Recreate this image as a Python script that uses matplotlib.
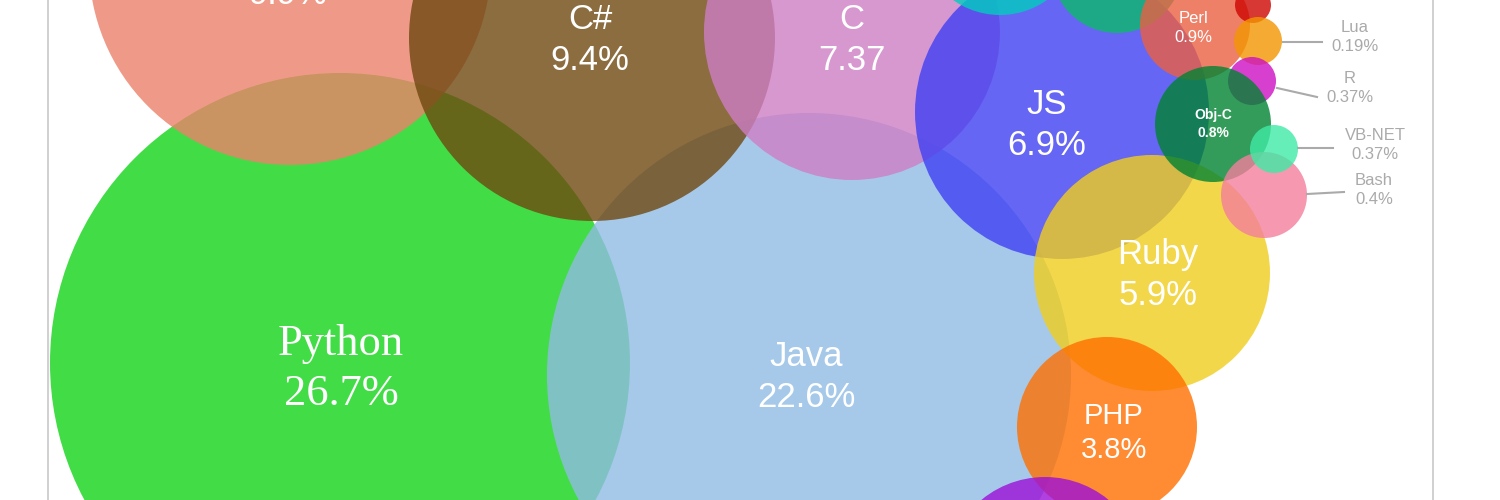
import matplotlib.pyplot as plt
from matplotlib.patches import Circle

# языки и доли
names = ["Python", "Java", "C++", "C#", "C", "JS", "Ruby", "PHP", "", "", "",
         "Perl", "", "Lua", "R", "Obj-C", "Bash", "VB-NET"]
shares = ["26.7%", "22.6%", "9.9%", "9.4%", "7.37", "6.9%", "5.9%", "3.8%", "", "", "",
          "0.9%", "", "0.19%", "0.37%", "0.8%", "0.4%", "0.37%"]

# раскладка пузырей (пиксели картинки)
bubble_x = [340, 809, 290, 592, 852, 1062, 1152, 1107, 1045, 1000, 1117,
            1195, 1253, 1258, 1252, 1213, 1264, 1274]
bubble_y = [363, 375, -36, 38, 32, 112, 273, 427, 577, -66, -33,
            25, 5, 41, 81, 124, 195, 149]
bubble_r = [290, 262, 201, 183, 148, 147, 118, 90, 100, 81, 66,
            55, 18, 24, 24, 58, 43, 24]
colors = ["#42dd46", "#90bce5", "#ec816a", "#6f4810", "#ce7ec4", "#4040f3", "#f1ce1d",
          "#ff6f00", "#9c10d8", "#00cebf", "#0bba6a", "#ea6042", "#ce0600", "#f39600",
          "#ce10c4", "#008331", "#f37e9c", "#40eaa6"]

# подписи внутри пузырей: (центр x, центр y, размер)
inner_labels = {
    "Python": (341, 369, 32),
    "Java": (806, 377, 25),
    "C++": (288, -26, 25),
    "C#": (590, 40, 25),
    "C": (852, 40, 25),
    "JS": (1047, 125, 25),
    "Ruby": (1158, 275, 25),
    "PHP": (1114, 433, 21),
    "Perl": (1193, 28, 12),
    "Obj-C": (1213, 124, 10),
}

# выноски для мелких пузырей
outer = ["Lua", "R", "VB-NET", "Bash"]
lead_start = [(1283, 42), (1277, 88), (1298, 148), (1307, 194)]
lead_end = [(1322, 42), (1317, 97), (1333, 148), (1344, 192)]
label_pos = [(1355, 37), (1350, 88), (1375, 145), (1374, 190)]

fig = plt.figure(figsize=(15, 5), dpi=100)
ax = fig.add_axes([0, 0, 1, 1])
ax.set_xlim(0, 1500)
ax.set_ylim(500, 0)
ax.axis("off")

ax.axvline(48, color="#c8c8c8", lw=1.2)
ax.axvline(1433, color="#c8c8c8", lw=1.2)

for i in range(len(bubble_x)):
    alpha = 1.0 if i == 0 else 0.8
    ax.add_patch(Circle((bubble_x[i], bubble_y[i]), bubble_r[i],
                        facecolor=colors[i], edgecolor="none", alpha=alpha))

for name, (x, y, size) in inner_labels.items():
    i = names.index(name)
    family = "Liberation Serif" if name == "Python" else "Liberation Sans"
    weight = "bold" if name == "Obj-C" else "normal"
    ax.text(x, y, names[i] + "\n" + shares[i], ha="center", va="center",
            color="white", fontsize=size, family=family, weight=weight,
            linespacing=1.3)

for k, name in enumerate(outer):
    i = names.index(name)
    ax.plot([lead_start[k][0], lead_end[k][0]], [lead_start[k][1], lead_end[k][1]],
            color="#aaaaaa", lw=1.5)
    ax.text(label_pos[k][0], label_pos[k][1], names[i] + "\n" + shares[i],
            ha="center", va="center", color="#aaaaaa", fontsize=12,
            family="Liberation Sans", linespacing=1.35)

fig.savefig("out.png", dpi=100)
